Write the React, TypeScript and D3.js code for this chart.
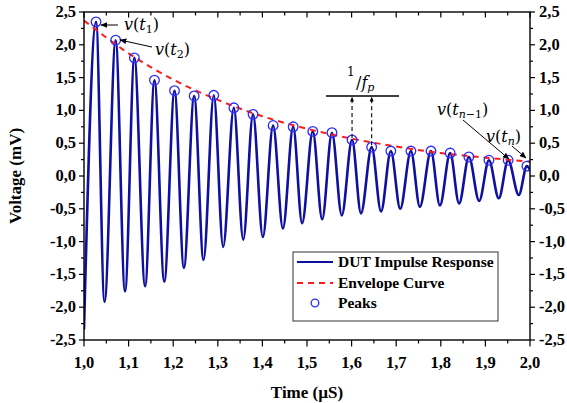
import React from "react";
import * as d3 from "d3";

// ---- data ----
const peakT = [1.027, 1.071, 1.113, 1.158, 1.203, 1.247, 1.291, 1.336, 1.379, 1.424, 1.469, 1.513, 1.556, 1.601, 1.645, 1.688, 1.733, 1.778, 1.821, 1.863, 1.908, 1.951, 1.993];
const peakV = [2.35, 2.07, 1.80, 1.46, 1.30, 1.22, 1.23, 1.04, 0.94, 0.77, 0.75, 0.68, 0.66, 0.55, 0.44, 0.38, 0.38, 0.38, 0.35, 0.29, 0.24, 0.24, 0.15];
const troughT = [1.046, 1.092, 1.137, 1.180, 1.224, 1.268, 1.312, 1.357, 1.401, 1.446, 1.489, 1.534, 1.578, 1.621, 1.666, 1.709, 1.753, 1.798, 1.841, 1.886, 1.930, 1.975];
const troughV = [-1.92, -1.76, -1.68, -1.61, -1.40, -1.28, -1.08, -0.97, -0.93, -0.80, -0.72, -0.66, -0.60, -0.57, -0.54, -0.50, -0.47, -0.45, -0.42, -0.38, -0.34, -0.29];
const startPoint = [1.0, -2.34];
const endPoint = [2.0, 0.1];
const envT = [1.0, 1.1, 1.2, 1.3, 1.4, 1.5, 1.6, 1.7, 1.8, 1.9, 2.0];
const envV = [2.37, 1.87, 1.47, 1.16, 0.91, 0.72, 0.57, 0.45, 0.35, 0.28, 0.22];
const xTicks = [1.0, 1.1, 1.2, 1.3, 1.4, 1.5, 1.6, 1.7, 1.8, 1.9, 2.0];
const yTicks = [-2.5, -2.0, -1.5, -1.0, -0.5, 0.0, 0.5, 1.0, 1.5, 2.0, 2.5];
const legendLabels = ["DUT Impulse Response", "Envelope Curve", "Peaks"];

const W = 567, H = 403;
const L = 84, R = 530, T = 12, B = 340;

const fmt = d3.formatLocale({ decimal: ",", thousands: ".", grouping: [3], currency: ["", ""], minus: "-" }).format(".1f");

const serif: React.CSSProperties = { fontFamily: "Liberation Serif, Times New Roman, Times, serif", fontWeight: 700 };
const math: React.CSSProperties = { fontFamily: "DejaVu Serif, Liberation Serif, serif" };

export default function App() {
  const x = d3.scaleLinear().domain([1, 2]).range([L, R]);
  const y = d3.scaleLinear().domain([-2.5, 2.5]).range([B, T]);

  const sig: [number, number][] = [[startPoint[0], startPoint[1]]];
  peakT.forEach((t, i) => sig.push([t, peakV[i]]));
  troughT.forEach((t, i) => sig.push([t, troughV[i]]));
  sig.push([endPoint[0], endPoint[1]]);
  sig.sort((a, b) => a[0] - b[0]);

  const line = d3.line<[number, number]>().x(d => x(d[0])).y(d => y(d[1])).curve(d3.curveMonotoneX);
  const env = envT.map((t, i) => [t, envV[i]] as [number, number]);

  const minorX = d3.range(0, 10).map(i => 1.05 + i * 0.1);
  const minorY = d3.range(0, 10).map(i => -2.25 + i * 0.5);

  const blue = "#0f0fa0";
  const red = "#ff1a1a";
  const circ = "#2b2bff";

  const p14x = x(peakT[13]), p15x = x(peakT[14]);

  return (
    <svg width={W} height={H} style={{ display: "block", position: "absolute", left: 0, top: 0, background: "#fff" }}>
      <defs>
        <marker id="ah" viewBox="0 0 10 10" refX="9" refY="5" markerWidth="7" markerHeight="7" orient="auto-start-reverse" markerUnits="userSpaceOnUse">
          <path d="M0,1 L10,5 L0,9 z" fill="#000" />
        </marker>
        <marker id="ahs" viewBox="0 0 10 10" refX="9" refY="5" markerWidth="5" markerHeight="5" orient="auto" markerUnits="userSpaceOnUse">
          <path d="M0,1 L10,5 L0,9 z" fill="#000" />
        </marker>
        <clipPath id="pc"><rect x={L} y={T} width={R - L} height={B - T} /></clipPath>
      </defs>

      {/* signal */}
      <g clipPath="url(#pc)">
        <path d={line(sig) || ""} fill="none" stroke={blue} strokeWidth={2.6} strokeLinejoin="round" />
        <path d={line(env) || ""} fill="none" stroke={red} strokeWidth={2} strokeDasharray="6,5" />
        {peakT.map((t, i) => (
          <circle key={i} cx={x(t)} cy={y(peakV[i])} r={4.8} fill="none" stroke={circ} strokeWidth={1.3} />
        ))}
      </g>

      {/* frame */}
      <rect x={L} y={T} width={R - L} height={B - T} fill="none" stroke="#000" strokeWidth={1.4} />

      {/* x ticks */}
      {xTicks.map(t => (
        <g key={"xt" + t}>
          <line x1={x(t)} x2={x(t)} y1={B} y2={B + 6.5} stroke="#000" strokeWidth={1.2} />
          <line x1={x(t)} x2={x(t)} y1={T} y2={T + 5.5} stroke="#000" strokeWidth={1.2} />
          <text x={x(t)} y={368} textAnchor="middle" style={serif} fontSize={16.5}>{fmt(t)}</text>
        </g>
      ))}
      {minorX.map(t => (
        <g key={"xm" + t}>
          <line x1={x(t)} x2={x(t)} y1={B} y2={B + 3.5} stroke="#000" strokeWidth={1.2} />
          <line x1={x(t)} x2={x(t)} y1={T} y2={T + 3.5} stroke="#000" strokeWidth={1.2} />
        </g>
      ))}

      {/* y ticks */}
      {yTicks.map(v => (
        <g key={"yt" + v}>
          <line x1={L - 5} x2={L} y1={y(v)} y2={y(v)} stroke="#000" strokeWidth={1.2} />
          <line x1={R} x2={R + 5} y1={y(v)} y2={y(v)} stroke="#000" strokeWidth={1.2} />
          <text x={76} y={y(v) + 5} textAnchor="end" style={serif} fontSize={16.5}>{fmt(v)}</text>
          <text x={539} y={y(v) + 5} textAnchor="start" style={serif} fontSize={16.5}>{fmt(v)}</text>
        </g>
      ))}
      {minorY.map(v => (
        <g key={"ym" + v}>
          <line x1={L - 3} x2={L} y1={y(v)} y2={y(v)} stroke="#000" strokeWidth={1.2} />
          <line x1={R} x2={R + 3} y1={y(v)} y2={y(v)} stroke="#000" strokeWidth={1.2} />
        </g>
      ))}

      {/* axis titles */}
      <text x={307} y={398} textAnchor="middle" style={serif} fontSize={17}>Time (µS)</text>
      <text transform={`translate(21,${(T + B) / 2}) rotate(-90)`} textAnchor="middle" style={serif} fontSize={17}>Voltage (mV)</text>

      {/* annotations */}
      <line x1={118} y1={25} x2={101} y2={25} stroke="#000" strokeWidth={1} markerEnd="url(#ah)" />
      <text x={124} y={30} style={math} fontSize={16}>
        <tspan fontStyle="italic">v</tspan>(<tspan fontStyle="italic">t</tspan><tspan fontSize={11} dy={3}>1</tspan><tspan dy={-3}>)</tspan>
      </text>
      <line x1={152} y1={47} x2={120} y2={40} stroke="#000" strokeWidth={1} markerEnd="url(#ah)" />
      <text x={155} y={55} style={math} fontSize={16}>
        <tspan fontStyle="italic">v</tspan>(<tspan fontStyle="italic">t</tspan><tspan fontSize={11} dy={3}>2</tspan><tspan dy={-3}>)</tspan>
      </text>

      {/* 1/fp */}
      <text x={347} y={76} style={math} fontSize={12}>1</text>
      <text x={356} y={88} style={math} fontSize={16}>
        /<tspan fontStyle="italic">f</tspan><tspan fontSize={11} dy={3} fontStyle="italic">p</tspan>
      </text>
      <line x1={326} x2={399} y1={96} y2={96} stroke="#000" strokeWidth={1.5} />
      <line x1={p14x} x2={p14x} y1={y(peakV[13]) - 2} y2={97} stroke="#000" strokeWidth={1.1} strokeDasharray="4,3" markerEnd="url(#ahs)" />
      <line x1={p15x} x2={p15x} y1={y(peakV[14]) - 2} y2={97} stroke="#000" strokeWidth={1.1} strokeDasharray="4,3" markerEnd="url(#ahs)" />

      {/* v(t_{n-1}), v(t_n) */}
      <text x={437} y={115} style={math} fontSize={16}>
        <tspan fontStyle="italic">v</tspan>(<tspan fontStyle="italic">t</tspan><tspan fontSize={11} dy={3} fontStyle="italic">n</tspan><tspan fontSize={11}>−1</tspan><tspan dy={-3}>)</tspan>
      </text>
      <line x1={463} y1={120} x2={509} y2={159} stroke="#000" strokeWidth={1} markerEnd="url(#ah)" />
      <text x={486} y={142} style={math} fontSize={16}>
        <tspan fontStyle="italic">v</tspan>(<tspan fontStyle="italic">t</tspan><tspan fontSize={11} dy={3} fontStyle="italic">n</tspan><tspan dy={-3}>)</tspan>
      </text>
      <line x1={512} y1={146} x2={526} y2={158} stroke="#000" strokeWidth={1} markerEnd="url(#ah)" />

      {/* legend */}
      <rect x={293} y={252} width={205} height={69} fill="#fff" stroke="#333" strokeWidth={1} />
      <line x1={297} x2={333} y1={262} y2={262} stroke={blue} strokeWidth={2} />
      <line x1={297} x2={333} y1={283} y2={283} stroke={red} strokeWidth={2} strokeDasharray="6,5" />
      <circle cx={315} cy={303} r={3.8} fill="none" stroke={circ} strokeWidth={1.3} />
      {legendLabels.map((s, i) => (
        <text key={s} x={338} y={267 + i * 20.5} style={serif} fontSize={15.5}>{s}</text>
      ))}
    </svg>
  );
}
